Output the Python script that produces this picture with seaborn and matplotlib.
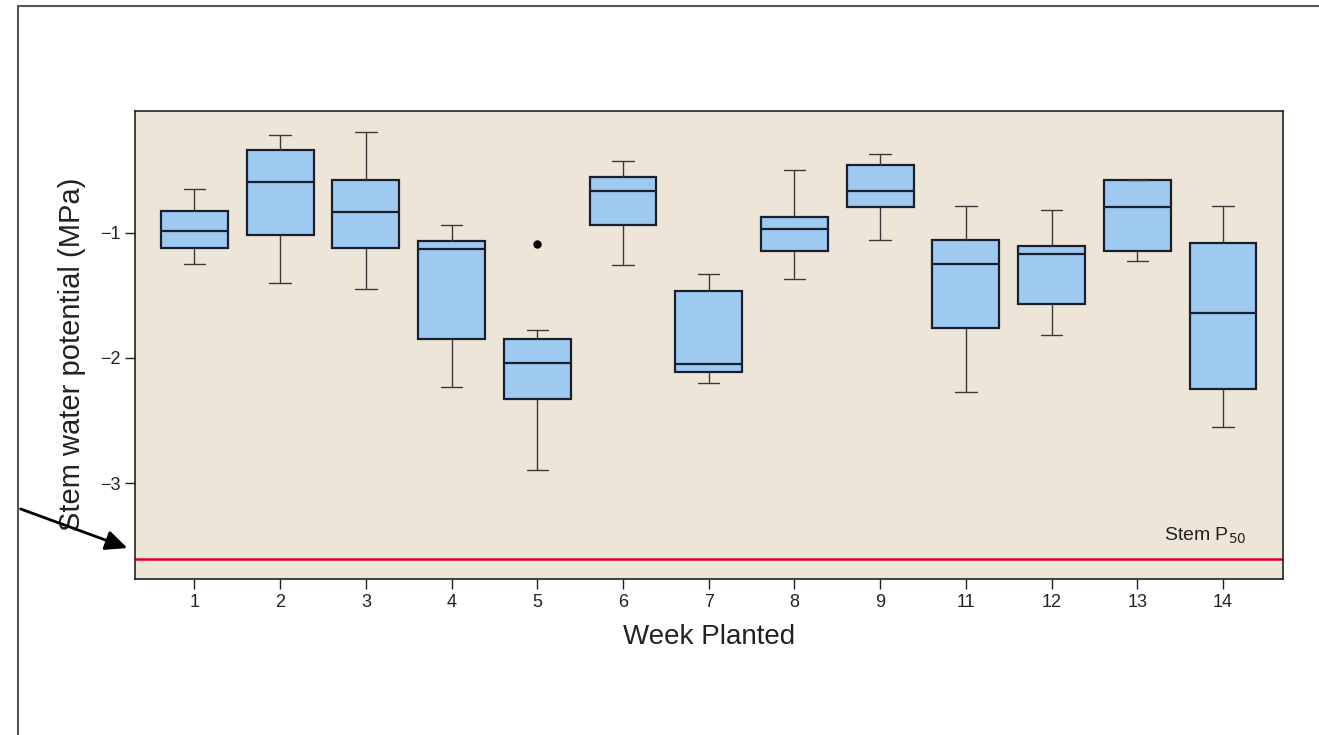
import numpy as np
import pandas as pd
import seaborn as sns
import matplotlib.pyplot as plt
from matplotlib.lines import Line2D

# five-number summaries (MPa)
weeks = ["1", "2", "3", "4", "5", "6", "7", "8", "9", "11", "12", "13", "14"]
whisker_low = [-1.25, -1.40, -1.45, -2.23, -2.89, -1.26, -2.20, -1.37, -1.06, -2.27, -1.82, -1.23, -2.55]
q1 = [-1.12, -1.02, -1.12, -1.85, -2.33, -0.94, -2.11, -1.15, -0.80, -1.76, -1.57, -1.15, -2.25]
median = [-0.99, -0.60, -0.84, -1.13, -2.04, -0.67, -2.05, -0.97, -0.67, -1.25, -1.17, -0.80, -1.64]
q3 = [-0.83, -0.34, -0.58, -1.07, -1.85, -0.56, -1.47, -0.88, -0.46, -1.06, -1.11, -0.58, -1.08]
whisker_high = [-0.65, -0.22, -0.20, -0.94, -1.78, -0.43, -1.33, -0.50, -0.37, -0.79, -0.82, -0.58, -0.79]
outlier_week = ["5"]
outlier_value = [-1.09]
stem_p50 = -3.60

# one row per summary value -> seaborn computes the same quartiles
rows = []
for i, w in enumerate(weeks):
    for v in (whisker_low[i], q1[i], median[i], q3[i], whisker_high[i]):
        rows.append({"week": w, "psi": v})
df = pd.DataFrame(rows)
out = pd.DataFrame({"week": outlier_week, "psi": outlier_value})

sns.set_theme(style="ticks")
plt.rcParams["font.family"] = ["Liberation Sans", "DejaVu Sans"]

fig = plt.figure(figsize=(13.19, 7.35), dpi=100)
ax = fig.add_axes([135 / 1319, 1 - 579 / 735, (1283 - 135) / 1319, (579 - 111) / 735])
ax.set_facecolor("#ede5d8")

edge = "#1a1f2e"
sns.boxplot(
    data=df, x="week", y="psi", order=weeks, ax=ax, width=0.78,
    color="#9ec9f0", saturation=1, whis=1.5, fliersize=0,
    boxprops=dict(edgecolor=edge, linewidth=1.6),
    medianprops=dict(color=edge, linewidth=1.6),
    whiskerprops=dict(color="#3a3a3a", linewidth=1.0),
    capprops=dict(color="#3a3a3a", linewidth=1.0),
    capwidths=0.25,
)
sns.stripplot(data=out, x="week", y="psi", order=weeks, ax=ax,
              color="black", size=6, jitter=False, marker="o")

ax.axhline(stem_p50, color="#e3002b", linewidth=1.8)
ax.text(0.968, 0.07, r"Stem P$_{50}$", transform=ax.transAxes,
        ha="right", va="bottom", fontsize=14, color="#222222")

ax.set_xlim(-0.694, 12.70)
ax.set_ylim(-3.763, -0.031)
ax.set_yticks([-1, -2, -3])
ax.set_yticklabels(["\u22121", "\u22122", "\u22123"])
ax.tick_params(axis="both", direction="out", length=7, width=1.0,
               color="#222222", labelsize=13, labelcolor="#222222")
ax.set_xlabel("Week Planted", fontsize=20, color="#222222", labelpad=10)
ax.set_ylabel("Stem water potential (MPa)", fontsize=21, color="#222222", labelpad=4)
ax.yaxis.set_label_coords(-0.043, 0.48)
for s in ax.spines.values():
    s.set_color("#222222")
    s.set_linewidth(1.2)

# outer frame lines and pointer arrow
fig.add_artist(Line2D([18 / 1319, 18 / 1319], [0, 1 - 6 / 735], transform=fig.transFigure,
                      color="#555555", linewidth=1.5))
fig.add_artist(Line2D([18 / 1319, 1], [1 - 6 / 735, 1 - 6 / 735], transform=fig.transFigure,
                      color="#555555", linewidth=1.5))
ax.annotate("", xy=(130 / 1319, 1 - 549 / 735), xycoords="figure fraction",
            xytext=(18 / 1319, 1 - 508 / 735), textcoords="figure fraction",
            arrowprops=dict(arrowstyle="-|>,head_length=1.1,head_width=0.5",
                            color="black", linewidth=2), annotation_clip=False)

fig.savefig("out.png", dpi=100, facecolor="white")
